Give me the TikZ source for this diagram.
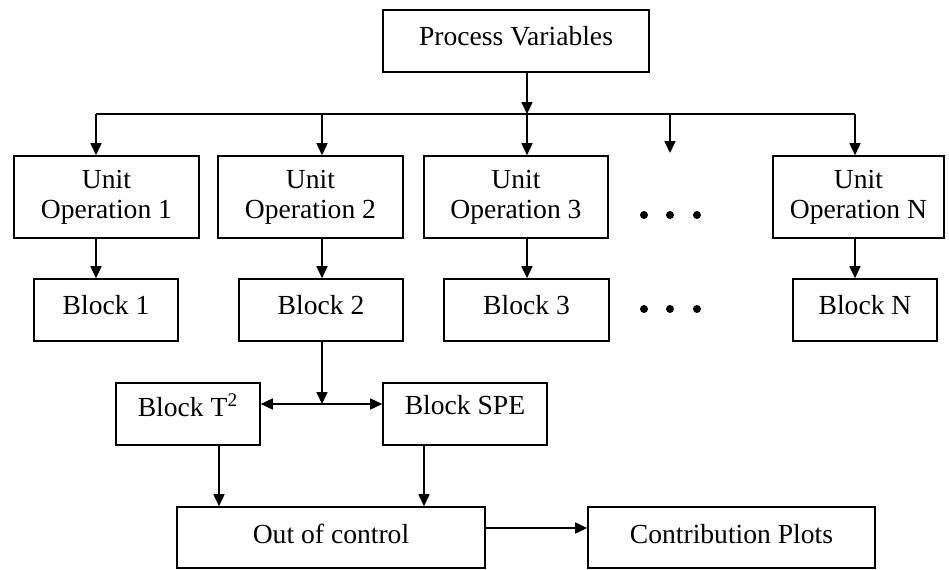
\documentclass[tikz,border=0pt]{standalone}
\usepackage{fontspec}
\setmainfont{Liberation Serif}
\usetikzlibrary{arrows.meta}

\tikzset{
  box/.style={draw, line width=0.8pt, align=center, inner sep=0pt,
    font=\fontsize{13.8}{15}\selectfont},
  raised/.style={text depth=#1},
  link/.style={line width=0.8pt, -{Triangle[length=6pt,width=5.5pt]}},
  twoway/.style={line width=0.8pt, {Triangle[length=6pt,width=5.5pt]}-{Triangle[length=6pt,width=5.5pt]}},
  dot/.style={circle, fill, inner sep=0pt, minimum size=4pt}
}

\begin{document}
\begin{tikzpicture}[x=0.5pt, y=-0.5pt]
    \useasboundingbox (0,0) rectangle (949,569);
    % Draw the top box
    \node[box, raised=5pt, minimum width=133pt, minimum height=31pt] (pv) at (516,41) {Process Variables};
    % Draw the unit operations
    \node[box, minimum width=92.5pt, minimum height=41pt] (uo1) at (106.5,197) {Unit\\Operation 1};
    \node[box, minimum width=92.5pt, minimum height=41pt] (uo2) at (310.5,197) {Unit\\Operation 2};
    \node[box, minimum width=92pt, minimum height=41pt] (uo3) at (516,197) {Unit\\Operation 3};
    \node[box, minimum width=85.5pt, minimum height=41pt] (uon) at (858.5,197) {Unit\\Operation N};
    % Draw the blocks
    \node[box, raised=5pt, minimum width=72pt, minimum height=31pt] (b1) at (106,310) {Block 1};
    \node[box, raised=5pt, minimum width=82pt, minimum height=31pt] (b2) at (321,310) {Block 2};
    \node[box, raised=5pt, minimum width=82.5pt, minimum height=31pt] (b3) at (526.5,310) {Block 3};
    \node[box, raised=5pt, minimum width=72pt, minimum height=31pt] (bn) at (865,310) {Block N};
    % Draw the statistics and the result boxes
    \node[box, raised=9pt, minimum width=72pt, minimum height=31pt] (t2) at (188,414) {Block T\textsuperscript{2}};
    \node[box, raised=9pt, minimum width=82pt, minimum height=31pt] (spe) at (465,414) {Block SPE};
    \node[box, raised=4pt, minimum width=154pt, minimum height=30.5pt] (ooc) at (331,537.5) {Out of control};
    \node[box, raised=4pt, minimum width=143.5pt, minimum height=30.5pt] (cp) at (731.5,537.5) {Contribution Plots};
    % Draw the dots
    \node[dot] (ua) at (644,215) {};
    \node[dot] (ub) at (670,215) {};
    \node[dot] (uc) at (697,215) {};
    \node[dot] (ba) at (644,309) {};
    \node[dot] (bb) at (670,309) {};
    \node[dot] (bc) at (697,309) {};
    % Columns of the arrows
    \coordinate (c1) at (96,114);
    \coordinate (c2) at (322,114);
    \coordinate (c3) at (527,114);
    \coordinate (c4) at (670,114);
    \coordinate (c5) at (855,114);
    \coordinate (dend) at (670,153);
    \coordinate (split) at (322,404);
    \coordinate (tcol) at (219,0);
    \coordinate (scol) at (424,0);
    \coordinate (prow) at (0,528);
    % Draw the distribution lines
    \draw[link] (pv.south -| c3) -- (c3);
    \draw[line width=0.8pt] (c1) -- (c5);
    \foreach \c/\u in {c1/uo1, c2/uo2, c3/uo3, c5/uon}
      \draw[link] (\c) -- (\c |- \u.north);
    \draw[link] (c4) -- (dend);
    \foreach \c/\u/\b in {c1/uo1/b1, c2/uo2/b2, c3/uo3/b3, c5/uon/bn}
      \draw[link] (\c |- \u.south) -- (\c |- \b.north);
    % Draw the lower connections
    \draw[link] (c2 |- b2.south) -- (split);
    \draw[twoway] (split -| t2.east) -- (split -| spe.west);
    \draw[link] (tcol |- t2.south) -- (tcol |- ooc.north);
    \draw[link] (scol |- spe.south) -- (scol |- ooc.north);
    \draw[link] (prow -| ooc.east) -- (prow -| cp.west);
\end{tikzpicture}
\end{document}
